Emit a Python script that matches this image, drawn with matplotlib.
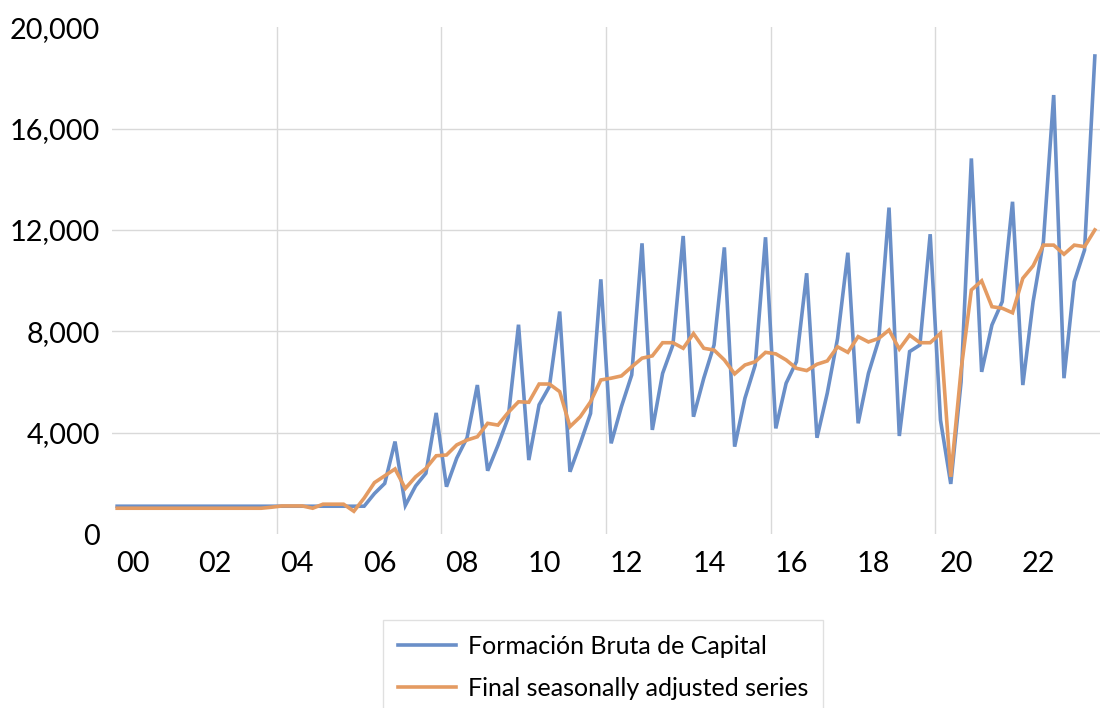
import matplotlib
matplotlib.use("Agg")
import matplotlib.pyplot as plt
import numpy as np

plt.rcParams['font.family'] = ['Lato', 'DejaVu Sans']

# Quarterly data 2000Q1 .. 2023Q4
formacion = [
    1100, 1100, 1100, 1100, 1100, 1100, 1100, 1100,
    1100, 1100, 1100, 1100, 1100, 1100, 1100, 1100,
    1100, 1100, 1100, 1100, 1100, 1100, 1100, 1100,
    1100, 1600, 2000, 3650, 1130, 1900, 2400, 4780,
    1870, 3000, 3800, 5880, 2500, 3500, 4600, 8260,
    2920, 5100, 5820, 8780, 2460, 3580, 4760, 10050,
    3580, 5030, 6280, 11470, 4110, 6340, 7460, 11760,
    4630, 6150, 7460, 11310, 3450, 5360, 6670, 11710,
    4170, 5950, 6800, 10290, 3800, 5560, 7720, 11100,
    4370, 6340, 7660, 12880, 3870, 7200, 7460, 11830,
    4500, 1980, 6000, 14820, 6400, 8250, 9170, 13110,
    5880, 9170, 11540, 17320, 6150, 9960, 11210, 18860,
]
ajustada = [
    1020, 1020, 1020, 1020, 1020, 1020, 1020, 1020,
    1020, 1020, 1020, 1020, 1020, 1020, 1020, 1060,
    1110, 1110, 1110, 1020, 1180, 1180, 1180, 900,
    1420, 2030, 2300, 2570, 1800, 2260, 2590, 3090,
    3120, 3520, 3710, 3840, 4370, 4300, 4800, 5220,
    5200, 5920, 5920, 5620, 4240, 4630, 5220, 6080,
    6150, 6240, 6600, 6940, 7030, 7550, 7550, 7330,
    7910, 7330, 7260, 6870, 6320, 6670, 6800, 7170,
    7110, 6870, 6540, 6450, 6700, 6830, 7390, 7170,
    7790, 7580, 7720, 8050, 7300, 7850, 7550, 7550,
    7920, 2260, 6470, 9630, 9990, 8970, 8910, 8730,
    10090, 10580, 11400, 11400, 11040, 11400, 11340, 12000,
]
year_labels = ["00", "02", "04", "06", "08", "10", "12", "14", "16", "18", "20", "22"]
y_ticks = [0, 4000, 8000, 12000, 16000, 20000]
series_names = ["Formación Bruta de Capital", "Final seasonally adjusted series"]

blue = "#6A8FC8"
orange = "#E49B62"
grid_c = "#D9D9D9"

fig = plt.figure(figsize=(11, 7.08), dpi=100)
ax = fig.add_axes([112 / 1100, (708 - 534.1) / 708, (1100 - 112) / 1100, (534.1 - 27.1) / 708])

x = np.arange(len(formacion))
ax.plot(x, formacion, color=blue, lw=2.6, solid_joinstyle='miter', label=series_names[0], zorder=3)
ax.plot(x, ajustada, color=orange, lw=2.6, solid_joinstyle='miter', label=series_names[1], zorder=4)

ax.set_xlim(-0.5, len(formacion) - 0.5)
ax.set_ylim(0, 20000)

# tick labels
ax.set_xticks(np.arange(len(year_labels)) * 8 + 1.5)
ax.set_xticklabels(year_labels)
ax.set_yticks(y_ticks)
ax.set_yticklabels([f"{v:,}" for v in y_ticks])
ax.tick_params(axis='both', length=0, labelsize=20.8, colors='black')
ax.tick_params(axis='y', pad=8.5)
ax.tick_params(axis='x', pad=12)

# vertical gridlines every 4 years (between categories)
ax.set_xticks(np.arange(1, 6) * 16 - 0.5, minor=True)
ax.tick_params(axis='x', which='minor', length=0)
ax.grid(which='minor', axis='x', color=grid_c, lw=1.0, zorder=0)
ax.grid(which='major', axis='y', color=grid_c, lw=1.0, zorder=0)
ax.grid(which='major', axis='x', visible=False)
gl = ax.yaxis.get_gridlines()
gl[0].set_visible(False)
gl[-1].set_visible(False)

for s in ax.spines.values():
    s.set_visible(False)

leg = fig.legend(loc='upper left', bbox_to_anchor=(383 / 1100, 1 - 620 / 708),
                 bbox_transform=fig.transFigure, borderaxespad=0,
                 fontsize=18, frameon=True, fancybox=False, edgecolor=grid_c,
                 handlelength=2.3, handletextpad=0.5, labelspacing=0.75,
                 borderpad=0.6)
leg.get_frame().set_linewidth(1.0)

fig.savefig("out.png", dpi=100)
